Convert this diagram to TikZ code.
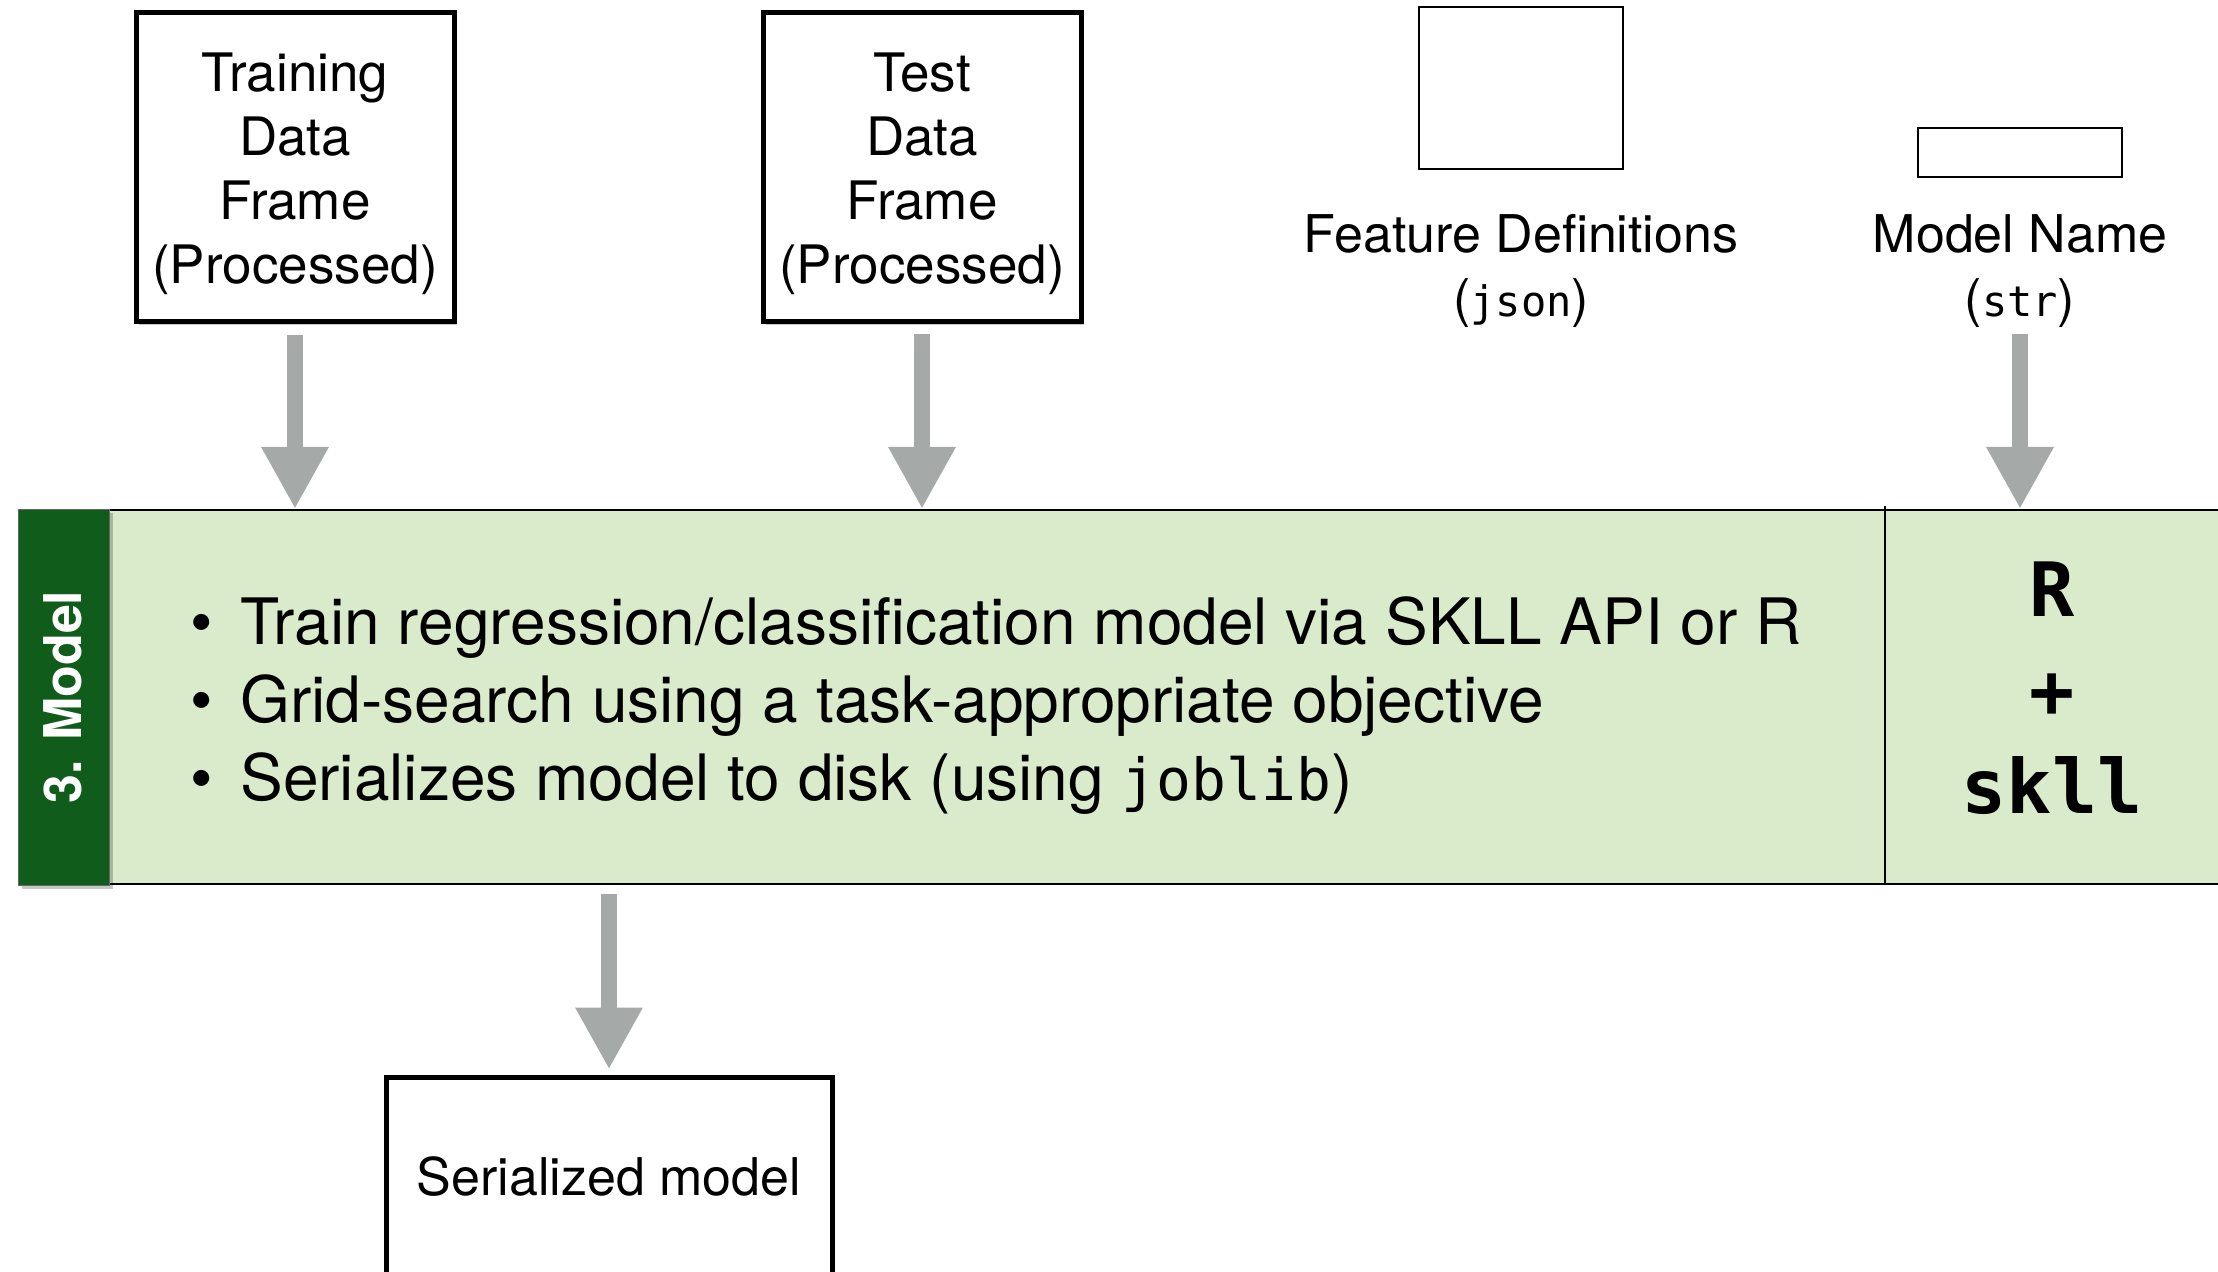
\documentclass[tikz,border=0pt]{standalone}
\usepackage{fontspec}
\setmainfont{TeX Gyre Heros}
\newfontfamily\codefont{DejaVu Sans Mono}
\usetikzlibrary{arrows.meta,shadows}

\definecolor{bandgreen}{HTML}{D9EBCB}
\definecolor{tabgreen}{HTML}{0F5C1B}
\definecolor{flowgray}{HTML}{A5A9A8}

% strut that lowers the text block inside the data frame boxes
\newcommand{\topstrut}{\rule{0pt}{25.5pt}}

\begin{document}
\begin{tikzpicture}[x=0.5pt,y=-0.5pt,
  softshadow/.style={drop shadow={fill=black,opacity=0.22,shadow xshift=1.5pt,shadow yshift=-1.5pt}},
  databox/.style={draw=black,line width=2.5pt,fill=white,inner sep=0pt,align=center,
    font=\fontsize{26.5}{32}\selectfont,softshadow},
  inputbox/.style={draw=black,line width=1.2pt,fill=white,inner sep=0pt},
  label/.style={inner sep=0pt,anchor=base,font=\fontsize{26}{32}\selectfont},
  bulletline/.style={inner sep=0pt,anchor=base west,font=\fontsize{32}{39}\selectfont},
  toolline/.style={inner sep=0pt,anchor=base,font=\codefont\bfseries\fontsize{37.5}{45}\selectfont},
  flow/.style={draw=flowgray,line width=8pt,-{Triangle[width=31.5pt,length=31pt]}}]

\useasboundingbox (0,0) rectangle (2218,1272);

% input data frames
\node (tr) [databox,minimum width=159pt,minimum height=154.5pt] at (295,167.5)
  {\topstrut Training\\Data\\Frame\\(Processed)};
\node (te) [databox,minimum width=159pt,minimum height=154.5pt] at (922,167.5)
  {\topstrut Test\\Data\\Frame\\(Processed)};

% feature definitions and model name inputs
\node (fd) [inputbox,minimum width=102pt,minimum height=81pt] at (1521,88) {};
\node (fdName) [label] at (1521,253) {Feature Definitions};
\node (fdType) [label] at (1521,317) {({\codefont\fontsize{21}{26}\selectfont json})};
\node (mn) [inputbox,minimum width=102pt,minimum height=24.5pt] at (2020,152.5) {};
\node (mnName) [label] at (2020,253) {Model Name};
\node (mnType) [label] at (2020,317) {({\codefont\fontsize{21}{26}\selectfont str})};

% the model stage band
\node (band) [fill=bandgreen,draw=black,line width=1.2pt,inner sep=0pt,anchor=north west,
  minimum width=1111pt,minimum height=187pt] at (18,509) {};
\node (tab) [fill=tabgreen,draw=black!60,line width=0.6pt,inner sep=0pt,anchor=north west,
  minimum width=45.5pt,minimum height=188pt,softshadow] at (18,509) {};
\node (tabLabel) [rotate=90,text=white,inner sep=0pt,
  font=\bfseries\fontsize{26}{30}\selectfont] at (63,697) {3. Model};
\coordinate (split) at (1885,0);
\draw[line width=1.2pt] ([yshift=1.5pt]split |- band.north) -- (split |- band.south);

\node (b1) [bulletline] at (190,645)
  {\makebox[25pt][l]{\textbullet}Train regression/classification model via SKLL API or R};
\node (b2) [bulletline] at (190,723)
  {\makebox[25pt][l]{\textbullet}Grid-search using a task-appropriate objective};
\node (b3) [bulletline] at (190,800)
  {\makebox[25pt][l]{\textbullet}Serializes model to disk (using {\codefont\fontsize{29}{39}\selectfont joblib})};

\node (tR) [toolline] at (2052,617) {R};
\node (tPlus) [toolline] at (2052,718) {+};
\node (tSkll) [toolline] at (2052,813) {skll};

% output
\node (ser) [databox,minimum width=223pt,minimum height=110pt] at (609,1187) {};
\node (serText) [label] at (609,1195) {Serialized model};

% connectors
\draw[flow,shorten <=5.5pt] (tr.south) -- (tr.south |- band.north);
\draw[flow,shorten <=5pt] (te.south) -- (te.south |- band.north);
\draw[flow,shorten <=3pt] (mnType.south) -- (mnType.south |- band.north);
\draw[flow,shorten <=4.5pt,shorten >=2.5pt] (ser.north |- band.south) -- (ser.north);
\end{tikzpicture}
\end{document}
